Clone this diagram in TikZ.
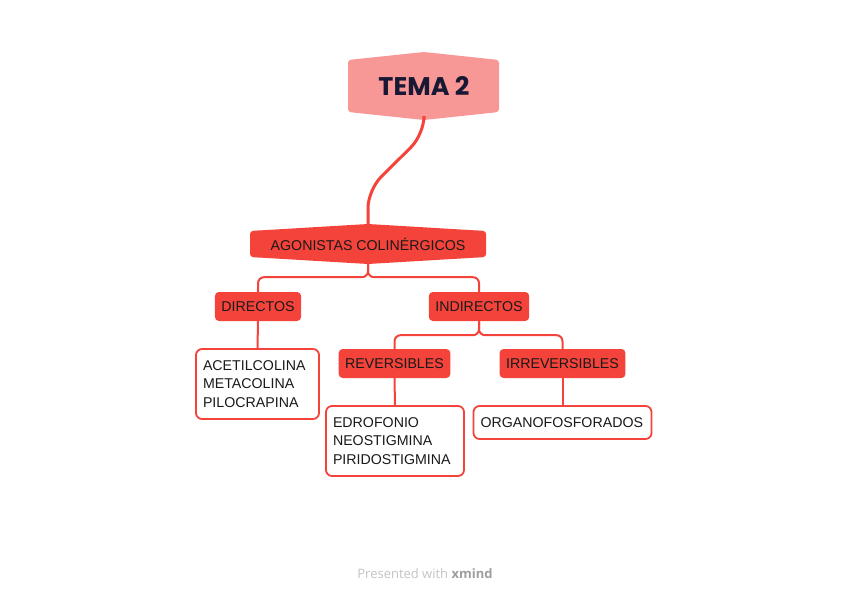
\documentclass[tikz,border=0pt]{standalone}
\usepackage{fontspec}
\setmainfont{Liberation Sans}
\newfontfamily\titlefont{Poppins}
\newfontfamily\footfont{Open Sans}
\usetikzlibrary{positioning}

\definecolor{xred}{RGB}{244,67,58}
\definecolor{xpink}{RGB}{248,152,150}
\definecolor{xnavy}{RGB}{24,24,52}
\definecolor{xgrey}{RGB}{195,195,195}

\tikzset{
  topic/.style={fill=xred, rounded corners=4pt, text=black!90,
    font=\fontsize{14.2}{17}\selectfont, minimum height=29pt, inner xsep=6.5pt},
  leaf/.style={draw=xred, line width=1.8pt, fill=white, rounded corners=6pt,
    align=left, text=black!90, font=\fontsize{14.2}{18.5}\selectfont, inner xsep=7pt},
  branch/.style={draw=xred, line width=2pt, rounded corners=6pt},
}

\begin{document}
\begin{tikzpicture}[x=1pt,y=-1pt]
    \useasboundingbox (0,0) rectangle (848,599);

    % central topic
    \fill[xpink, rounded corners=3pt] (348,60) -- (424,52) -- (499,60) -- (499,112) -- (424,120) -- (348,112) -- cycle;
    \node[minimum width=151pt, minimum height=68pt, text=xnavy,
      font=\titlefont\bfseries\fontsize{25.5}{30}\selectfont] (tema) at (424,86) {TEMA 2};

    % main branch
    \fill[xred, rounded corners=3pt] (250,231) -- (368,224) -- (486,231) -- (486,257) -- (368,264) -- (250,257) -- cycle;
    \node[minimum width=236pt, minimum height=40pt, text=black!90,
      font=\fontsize{14.2}{17}\selectfont] (agon) at (368,244) {AGONISTAS COLIN\'ERGICOS};

    \draw[xred, line width=3pt, rounded corners=18pt] (tema.south) -- ++(0,14) -- (368,190) -- (agon.north);

    % subtopics
    \node[topic] (dir) at (258,306.5) {DIRECTOS};
    \node[topic] (indir) at (479,306.5) {INDIRECTOS};
    \node[topic] (rev) at (394.5,363.5) {REVERSIBLES};
    \node[topic] (irr) at (562.5,363.5) {IRREVERSIBLES};

    % leaves
    \node[leaf, text width=109pt, minimum height=70pt] (acet) at (257.5,384)
      {ACETILCOLINA\\METACOLINA\\PILOCRAPINA};
    \node[leaf, text width=124pt, minimum height=70pt] (edro) at (395,441)
      {EDROFONIO\\NEOSTIGMINA\\PIRIDOSTIGMINA};
    \node[leaf, text width=164pt, minimum height=33pt] (organ) at (562.5,422.5)
      {ORGANOFOSFORADOS};

    % connectors
    \draw[branch] (agon.south) -- ++(0,13) -| (dir.north);
    \draw[branch] (agon.south) -- ++(0,13) -| (indir.north);
    \draw[branch] (indir.south) -- ++(0,14) -| (rev.north);
    \draw[branch] (indir.south) -- ++(0,14) -| (irr.north);
    \draw[branch] (dir.south) -- (acet.north);
    \draw[branch] (rev.south) -- (edro.north);
    \draw[branch] (irr.south) -- (organ.north);

    % footer
    \node[text=xgrey, font=\footfont\fontsize{13}{15}\selectfont] (foot) at (425,574)
      {Presented with \textcolor{black!38}{\bfseries xmind}};
\end{tikzpicture}
\end{document}
